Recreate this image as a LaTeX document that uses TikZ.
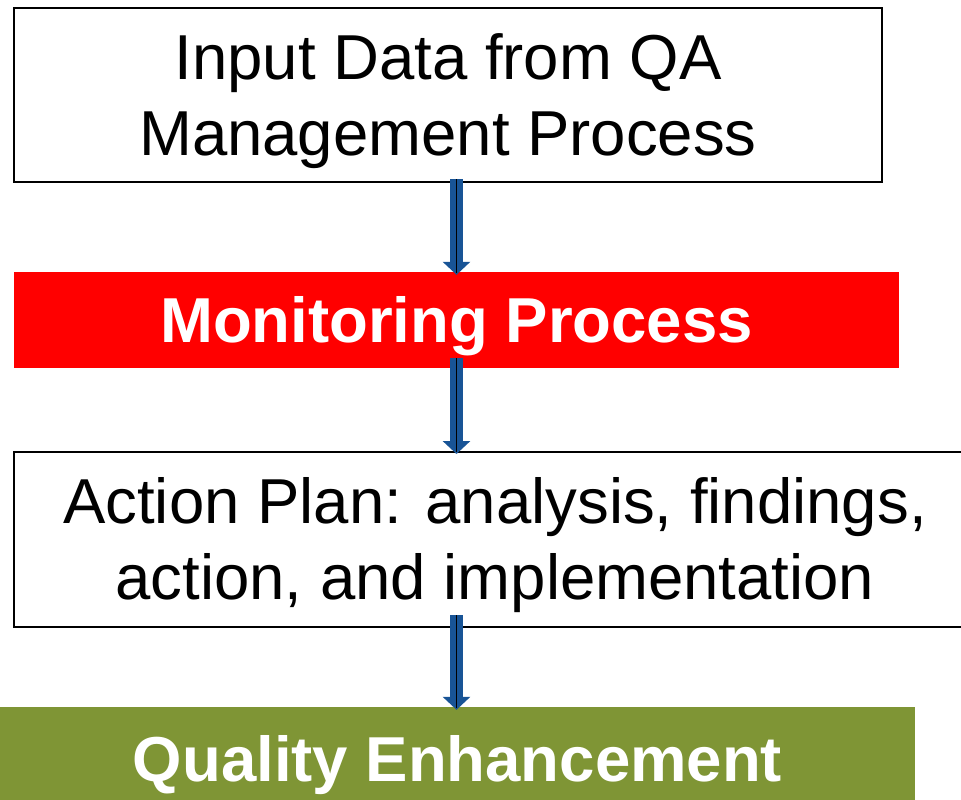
\documentclass[tikz,border=0pt]{standalone}
\usepackage{fontspec}
\setmainfont{Liberation Sans}
\usepackage{tikz}
\usetikzlibrary{arrows.meta}
\usetikzlibrary{positioning}
\definecolor{arrowblue}{RGB}{24,84,150}
\definecolor{qegreen}{RGB}{127,149,53}
\newcommand{\lnstrut}{\rule[-0.212em]{0pt}{1.117em}}
\tikzset{>=latex}
\tikzstyle{bigtext} = [font=\fontsize{63.5}{76}\selectfont, align=center, inner sep=0]
\tikzstyle{whitebox} = [bigtext, rectangle, draw=black, line width=2pt, fill=white]
\tikzstyle{colorbox} = [bigtext, rectangle, draw=none, text=white, font=\fontsize{63.5}{76}\selectfont\bfseries]
\tikzstyle{flow} = [-{Triangle[width=27pt,length=13pt]}, draw=arrowblue, line width=13pt, shorten >=-3pt,
  postaction={draw=black, line width=1.8pt, -, shorten >=-1pt}]

\begin{document}
\begin{tikzpicture}[x=1pt, y=-1pt]
\clip (0, 0) rectangle (961, 800);
\fill [white] (0, 0) rectangle (961, 800);
\node [whitebox, minimum width=868pt, minimum height=174pt] (In) at (448, 95) {\lnstrut Input Data from QA\\\lnstrut Management Process};
\node [colorbox, fill=red, minimum width=885pt, minimum height=96pt] (Mon) at (456.5, 320) {\lnstrut Monitoring Process};
\node [whitebox, minimum width=962pt, minimum height=175pt] (Act) at (495, 539.5) {\lnstrut Action Plan: analysis, findings,\\\lnstrut action, and implementation};
\node [colorbox, fill=qegreen, minimum width=915pt, minimum height=105pt] (QE) at (457.5, 759.5) {\lnstrut Quality Enhancement};
\draw [flow, shorten <=-4pt] ([xshift=8.5pt]In.south) to (Mon.north);
\draw [flow, shorten <=-10pt] (Mon.south) to ([xshift=-38.5pt]Act.north);
\draw [flow, shorten <=-13pt] ([xshift=-38.5pt]Act.south) to ([xshift=-1pt]QE.north);
\end{tikzpicture}
\end{document}
